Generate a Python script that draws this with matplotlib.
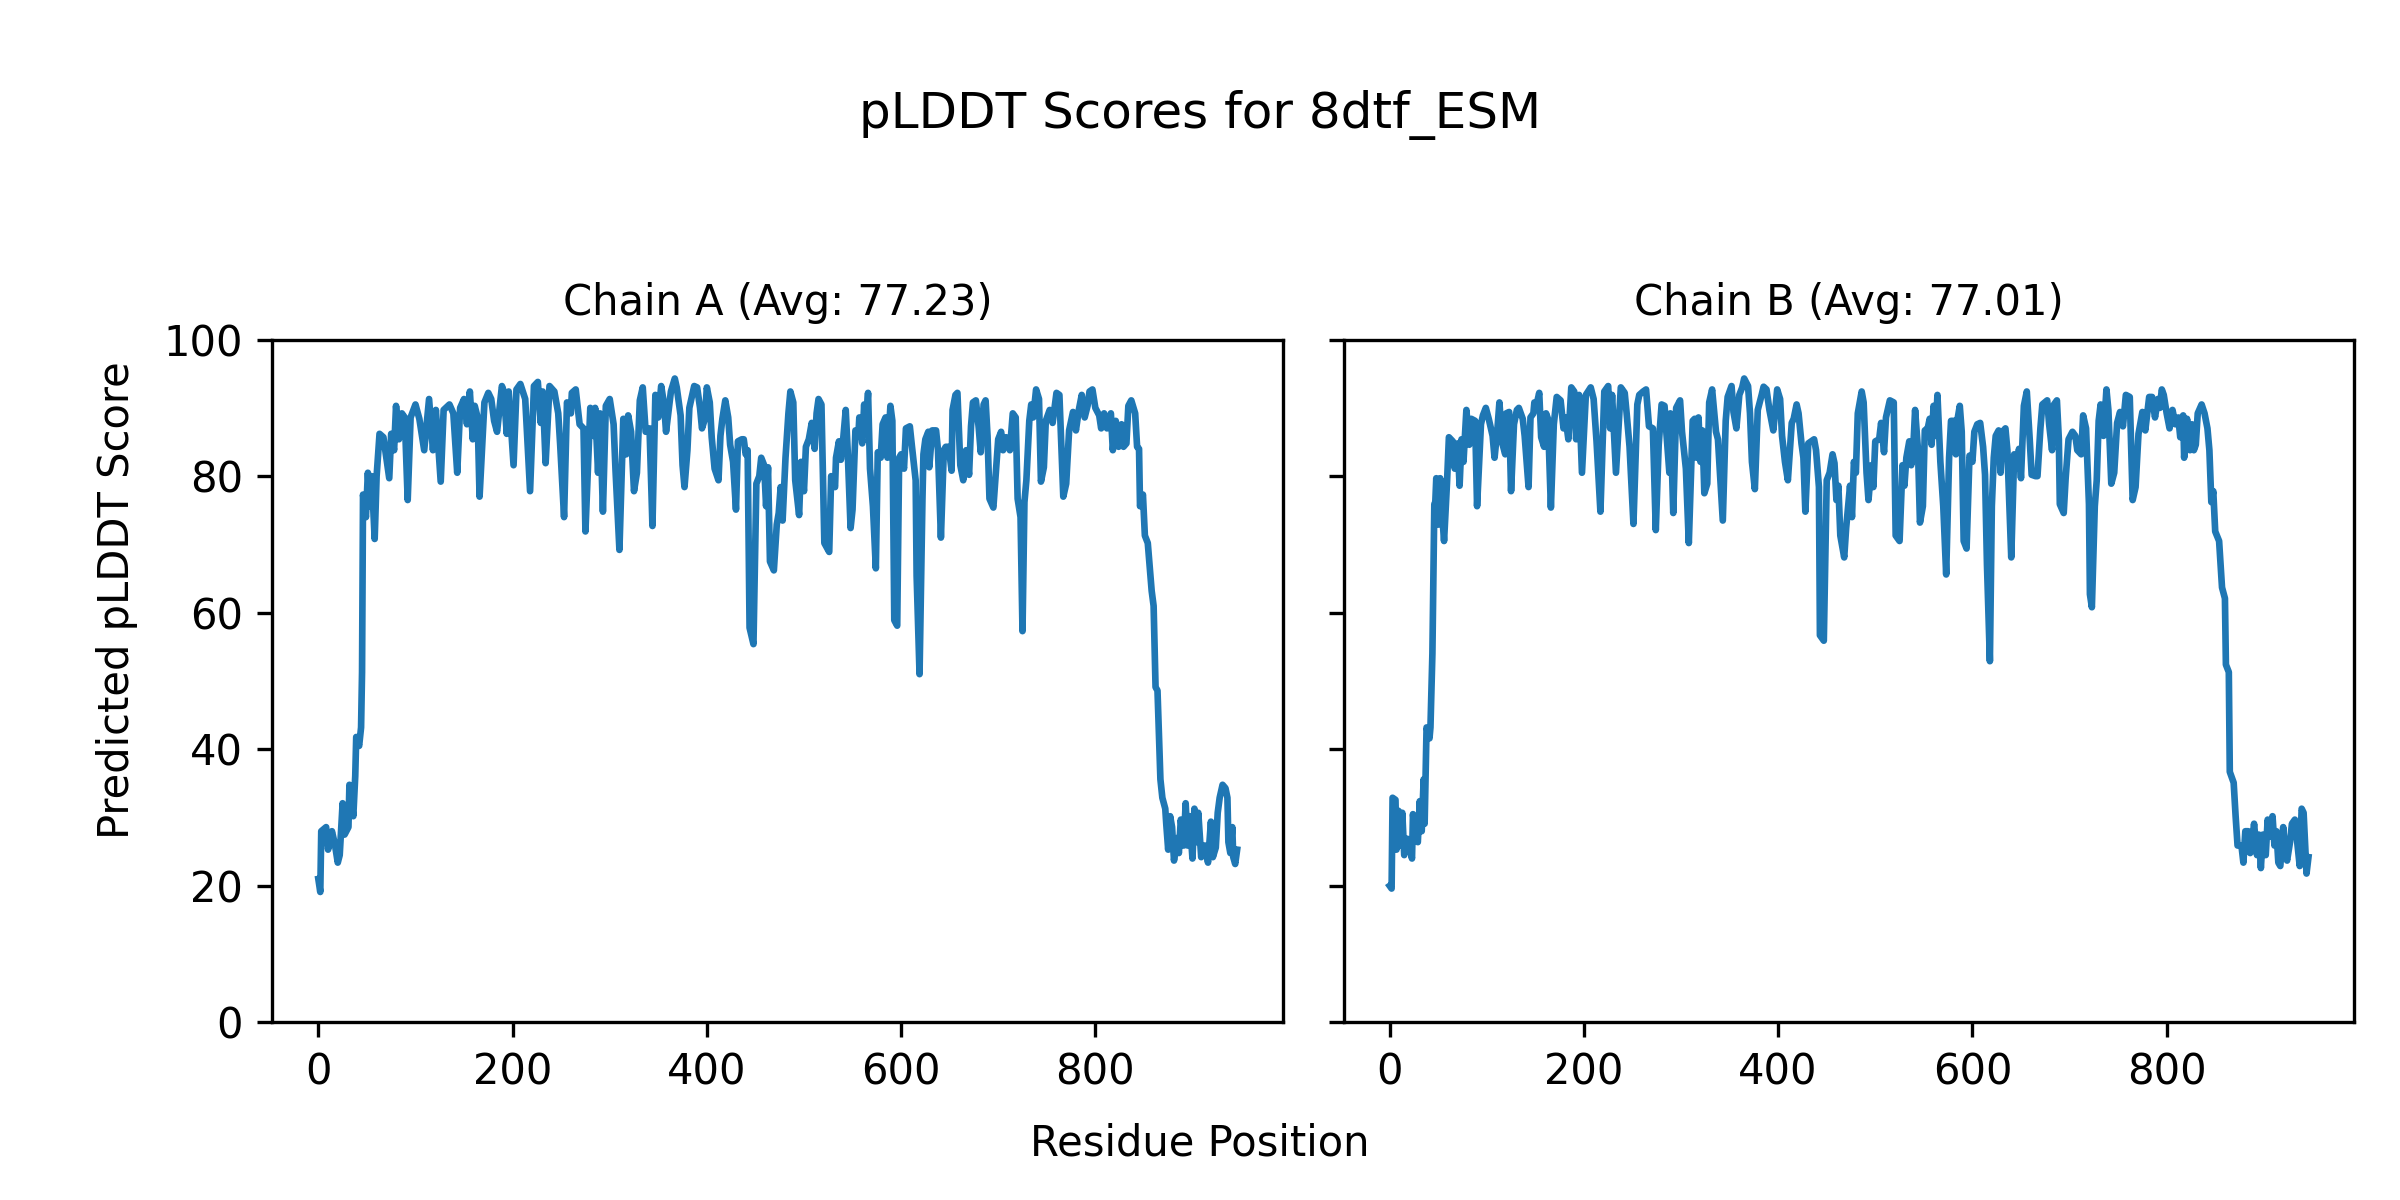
import matplotlib
matplotlib.use("Agg")
import matplotlib.pyplot as plt

# pLDDT per residue (vertices of the trace)
pos_a = [0, 2, 3, 8, 10, 14, 17, 20, 22, 25, 27, 31, 32, 36, 38, 39, 42, 44, 45, 46,
         49, 51, 53, 55, 58, 60, 63, 67, 70, 73, 75, 78, 80, 83, 86, 89, 92, 95, 100, 104,
         109, 114, 118, 121, 126, 129, 135, 139, 143, 146, 150, 153, 156, 159, 161, 164, 166, 171, 175, 178,
         181, 184, 189, 191, 194, 196, 201, 204, 208, 213, 218, 222, 226, 229, 231, 234, 238, 243, 247, 249,
         253, 256, 260, 261, 265, 269, 273, 275, 280, 283, 285, 288, 290, 293, 296, 300, 304, 306, 310, 314,
         317, 319, 322, 325, 328, 331, 334, 337, 341, 344, 347, 350, 353, 356, 358, 363, 367, 369, 373, 375,
         377, 380, 382, 387, 390, 393, 395, 398, 400, 403, 405, 408, 412, 414, 416, 419, 422, 424, 427, 430,
         432, 436, 438, 440, 442, 444, 448, 451, 454, 456, 459, 461, 463, 465, 469, 472, 474, 476, 478, 481,
         484, 486, 489, 491, 495, 497, 500, 502, 505, 508, 511, 513, 515, 518, 521, 526, 528, 532, 533, 536,
         538, 540, 543, 545, 548, 550, 553, 556, 557, 560, 562, 563, 566, 568, 571, 574, 576, 579, 581, 584,
         586, 589, 591, 593, 596, 598, 600, 603, 605, 609, 611, 615, 616, 619, 622, 623, 625, 628, 629, 632,
         636, 638, 641, 644, 646, 649, 652, 653, 656, 658, 661, 664, 667, 670, 672, 674, 677, 680, 682, 685,
         687, 689, 691, 695, 697, 700, 703, 705, 708, 712, 715, 718, 720, 723, 725, 727, 729, 732, 734, 736,
         739, 742, 744, 747, 749, 753, 756, 760, 763, 767, 770, 773, 777, 780, 783, 786, 789, 792, 794, 797,
         800, 804, 806, 809, 812, 816, 818, 821, 824, 827, 829, 832, 834, 837, 841, 843, 845, 846, 849, 851,
         854, 858, 860, 862, 864, 867, 869, 872, 873, 875, 877, 879, 881, 884, 886, 888, 891, 893, 895, 897,
         900, 902, 904, 906, 909, 911, 913, 916, 919, 921, 924, 926, 928, 931, 934, 936, 937, 939, 941, 942,
         944, 946]
score_a = [21.0, 19.1, 28.0, 28.6, 25.3, 28.0, 26.1, 23.4, 24.5, 32.1, 27.5, 28.6, 34.8, 30.2, 36.1, 41.8, 40.5, 43.2, 51.3, 77.3,
           74.0, 80.5, 75.6, 80.0, 70.8, 80.0, 86.2, 85.7, 82.7, 79.7, 86.2, 83.8, 90.3, 85.4, 89.2, 88.6, 76.5, 88.6, 90.5, 88.4,
           83.8, 91.3, 83.8, 89.7, 79.2, 89.7, 90.5, 89.2, 80.5, 90.0, 91.3, 87.6, 92.4, 85.4, 90.3, 88.6, 77.0, 90.8, 92.2, 91.3,
           88.1, 86.5, 93.2, 92.4, 86.2, 92.4, 81.6, 92.7, 93.5, 91.3, 77.8, 93.2, 93.8, 87.8, 92.4, 81.9, 93.2, 92.4, 89.2, 84.6,
           74.0, 90.8, 89.2, 92.2, 92.7, 87.6, 87.0, 71.9, 90.0, 85.9, 90.0, 80.5, 89.2, 74.8, 90.3, 91.3, 87.6, 80.8, 69.2, 88.4,
           83.2, 88.9, 86.5, 77.8, 80.5, 91.1, 93.0, 86.5, 87.0, 72.7, 91.9, 88.6, 93.2, 90.5, 86.5, 92.4, 94.3, 93.0, 88.9, 81.6,
           78.4, 83.8, 90.0, 93.2, 93.0, 90.0, 87.0, 88.4, 93.0, 90.8, 85.7, 81.1, 79.4, 85.9, 88.4, 91.1, 88.6, 84.6, 82.1, 75.1,
           85.1, 85.4, 85.4, 83.2, 83.8, 57.8, 55.4, 78.9, 80.0, 82.7, 81.6, 75.6, 81.3, 67.5, 66.2, 72.9, 74.6, 78.4, 73.5, 82.7,
           89.2, 92.4, 90.8, 79.4, 74.3, 82.1, 77.8, 84.3, 85.4, 87.8, 84.0, 89.2, 91.3, 90.5, 70.2, 68.9, 80.0, 78.4, 82.7, 85.1,
           82.4, 84.8, 89.7, 83.8, 72.4, 75.1, 86.7, 85.9, 88.6, 84.8, 90.5, 86.5, 92.2, 81.1, 75.6, 66.5, 83.5, 82.7, 87.6, 88.6,
           82.7, 90.3, 88.1, 58.9, 58.1, 82.7, 83.2, 81.1, 87.0, 87.3, 84.6, 79.4, 65.4, 51.0, 76.7, 83.2, 85.4, 86.5, 81.3, 86.7,
           86.7, 83.8, 71.0, 83.8, 84.3, 84.3, 80.8, 89.7, 91.9, 92.2, 81.6, 79.4, 83.8, 80.2, 87.3, 90.8, 91.1, 87.0, 83.5, 90.5,
           91.1, 85.9, 76.7, 75.4, 79.4, 85.4, 86.5, 83.8, 85.7, 83.8, 89.2, 88.6, 76.7, 74.0, 57.3, 76.2, 79.4, 88.1, 90.5, 88.6,
           92.7, 91.3, 79.2, 81.3, 88.1, 89.7, 87.8, 92.2, 91.9, 77.0, 78.9, 86.7, 89.4, 86.7, 89.7, 91.9, 88.6, 90.3, 92.4, 92.7,
           90.0, 88.9, 87.0, 89.2, 87.0, 89.2, 83.8, 88.1, 84.3, 87.6, 84.3, 84.8, 90.3, 91.1, 89.2, 84.3, 84.0, 75.6, 77.3, 71.3,
           70.2, 63.2, 61.0, 49.1, 48.6, 35.6, 32.9, 31.3, 29.1, 25.3, 30.2, 28.6, 23.7, 27.0, 24.8, 29.7, 25.9, 32.1, 25.9, 30.2,
           24.0, 31.3, 26.4, 30.7, 24.2, 25.9, 25.9, 23.4, 29.4, 24.2, 25.6, 30.7, 32.9, 34.8, 34.3, 32.9, 26.4, 24.8, 28.6, 24.2,
           23.2, 25.3]

pos_b = [0, 2, 3, 6, 7, 9, 11, 13, 15, 18, 21, 23, 24, 27, 29, 31, 33, 35, 36, 38,
         41, 42, 44, 46, 47, 48, 50, 52, 54, 56, 59, 61, 65, 67, 70, 72, 74, 76, 79, 82,
         84, 88, 90, 94, 96, 99, 102, 106, 108, 111, 113, 116, 119, 120, 123, 125, 128, 131, 133, 137,
         139, 143, 145, 148, 149, 151, 154, 156, 159, 161, 163, 166, 169, 172, 176, 179, 181, 184, 187, 190,
         192, 195, 198, 202, 207, 210, 213, 217, 221, 225, 227, 229, 233, 238, 242, 244, 247, 251, 255, 257,
         261, 264, 267, 271, 274, 277, 280, 283, 285, 288, 289, 292, 295, 299, 301, 305, 308, 312, 314, 316,
         318, 320, 322, 324, 327, 329, 332, 336, 338, 343, 346, 348, 352, 354, 357, 360, 363, 365, 369, 371,
         373, 376, 379, 383, 385, 388, 391, 395, 397, 399, 402, 404, 407, 410, 414, 416, 419, 421, 424, 426,
         428, 431, 434, 437, 439, 442, 443, 447, 450, 453, 456, 458, 460, 462, 464, 468, 470, 474, 476, 478,
         480, 482, 486, 488, 491, 493, 496, 498, 500, 504, 506, 509, 511, 515, 519, 521, 525, 528, 530, 532,
         535, 537, 539, 541, 544, 546, 549, 551, 554, 556, 558, 560, 562, 564, 567, 570, 573, 576, 578, 582,
         583, 585, 587, 589, 591, 594, 597, 600, 602, 605, 608, 611, 613, 615, 618, 620, 622, 624, 627, 629,
         631, 634, 636, 640, 643, 645, 648, 650, 653, 656, 659, 661, 665, 667, 670, 672, 677, 679, 682, 684,
         687, 689, 690, 694, 696, 699, 703, 706, 708, 712, 714, 717, 720, 721, 723, 726, 728, 730, 732, 735,
         738, 740, 743, 746, 749, 752, 755, 758, 762, 765, 768, 771, 775, 778, 782, 785, 788, 791, 793, 795,
         797, 800, 803, 806, 809, 812, 814, 817, 818, 821, 824, 826, 828, 830, 832, 836, 839, 842, 844, 846,
         848, 850, 854, 857, 860, 861, 864, 865, 869, 871, 873, 877, 879, 881, 884, 886, 888, 890, 893, 895,
         897, 899, 902, 904, 906, 909, 911, 913, 915, 917, 920, 922, 924, 927, 929, 932, 934, 937, 939, 941,
         944, 946]
score_b = [20.0, 19.6, 32.9, 32.6, 25.3, 31.0, 25.9, 30.7, 24.5, 26.9, 25.3, 24.0, 30.5, 26.7, 26.4, 32.4, 28.0, 35.6, 29.1, 43.2,
           41.6, 43.2, 54.0, 75.9, 76.2, 79.7, 72.9, 79.7, 74.6, 70.5, 78.9, 85.7, 85.1, 81.1, 84.8, 78.6, 85.4, 82.1, 89.7, 84.6,
           88.4, 88.1, 75.6, 87.6, 88.9, 90.0, 88.4, 85.9, 82.7, 87.0, 90.8, 84.8, 83.2, 89.2, 89.4, 77.8, 87.6, 89.7, 90.0, 88.4,
           85.9, 78.4, 88.6, 89.2, 90.8, 90.3, 92.2, 85.7, 84.3, 89.2, 88.4, 75.4, 87.6, 91.6, 91.1, 87.0, 88.6, 85.4, 93.0, 92.4,
           85.4, 91.9, 80.5, 91.9, 93.0, 91.3, 85.1, 74.8, 92.4, 93.2, 87.0, 91.9, 80.5, 93.0, 92.2, 89.2, 84.3, 73.0, 90.5, 91.9,
           92.4, 92.7, 87.3, 87.0, 72.1, 84.6, 90.5, 90.3, 86.2, 80.5, 89.2, 74.6, 90.0, 91.1, 86.5, 81.1, 70.2, 88.1, 88.4, 82.7,
           88.6, 82.1, 86.7, 77.5, 78.9, 90.8, 92.7, 86.5, 85.4, 73.5, 88.1, 91.6, 93.2, 89.4, 87.0, 91.9, 93.0, 94.3, 93.2, 89.2,
           82.1, 78.1, 89.7, 91.9, 93.1, 92.7, 89.7, 86.7, 89.7, 92.7, 91.3, 85.9, 82.1, 79.4, 87.8, 88.4, 90.5, 89.2, 84.8, 82.7,
           74.8, 84.8, 85.1, 85.4, 83.8, 78.4, 56.7, 55.9, 79.4, 80.5, 83.2, 81.9, 76.5, 78.6, 71.3, 68.1, 72.4, 78.6, 74.0, 82.1,
           80.5, 89.2, 92.4, 90.8, 80.5, 76.5, 81.6, 78.4, 85.1, 85.4, 87.8, 83.5, 88.6, 91.1, 90.8, 71.3, 70.5, 81.6, 78.6, 82.7,
           85.1, 81.6, 83.8, 89.7, 83.8, 73.2, 75.6, 86.7, 87.0, 88.4, 84.6, 90.3, 85.9, 91.9, 82.1, 75.6, 65.6, 82.7, 88.1, 88.1,
           83.2, 88.6, 90.3, 86.5, 70.5, 69.4, 83.0, 82.1, 86.5, 87.6, 87.8, 84.3, 80.2, 67.0, 52.9, 75.6, 82.7, 85.9, 86.7, 80.5,
           86.5, 87.0, 83.8, 68.1, 83.2, 81.1, 84.0, 79.7, 90.3, 92.4, 85.4, 80.2, 80.0, 80.0, 87.0, 90.5, 91.1, 87.6, 83.8, 90.5,
           91.1, 85.4, 75.9, 74.6, 79.7, 85.4, 86.5, 85.9, 83.8, 83.2, 88.9, 87.0, 75.9, 62.7, 60.8, 75.6, 79.4, 88.1, 90.5, 85.9,
           92.7, 89.7, 78.9, 80.5, 87.8, 89.4, 87.3, 91.9, 91.6, 76.5, 78.4, 86.2, 89.4, 86.7, 91.6, 91.6, 88.6, 91.3, 90.0, 92.7,
           91.9, 89.2, 87.0, 89.7, 87.6, 88.6, 85.7, 88.9, 82.7, 88.4, 83.8, 87.6, 83.8, 84.6, 89.2, 90.5, 89.2, 87.0, 83.8, 76.2,
           77.8, 71.9, 70.5, 63.7, 62.1, 52.4, 51.3, 36.7, 35.1, 30.2, 25.9, 25.9, 23.4, 28.0, 28.0, 24.8, 26.4, 29.1, 24.5, 27.5,
           22.6, 27.5, 24.5, 29.7, 27.2, 30.2, 25.9, 28.0, 23.4, 22.9, 28.6, 25.1, 23.7, 26.4, 29.1, 29.7, 27.0, 22.9, 31.3, 30.7,
           21.8, 24.2]

chains = ["A", "B"]
averages = [77.23, 77.01]

fig, axes = plt.subplots(1, 2, figsize=(8, 4), dpi=300, sharey=True)

for ax, name, avg, x, y in zip(axes, chains, averages, [pos_a, pos_b], [score_a, score_b]):
    ax.plot(x, y, color="#1f77b4", linewidth=1.6)
    ax.set_title(f"Chain {name} (Avg: {avg:.2f})", fontsize=10)
    ax.set_ylim(0, 100)

fig.suptitle("pLDDT Scores for 8dtf_ESM", fontsize=12, y=0.925)
fig.supxlabel("Residue Position", fontsize=10, y=0.03)
fig.supylabel("Predicted pLDDT Score", fontsize=10, x=0.04)

plt.subplots_adjust(left=0.1135, right=0.981, top=0.717, bottom=0.148, wspace=0.06)
plt.savefig("out.png", dpi=300)
